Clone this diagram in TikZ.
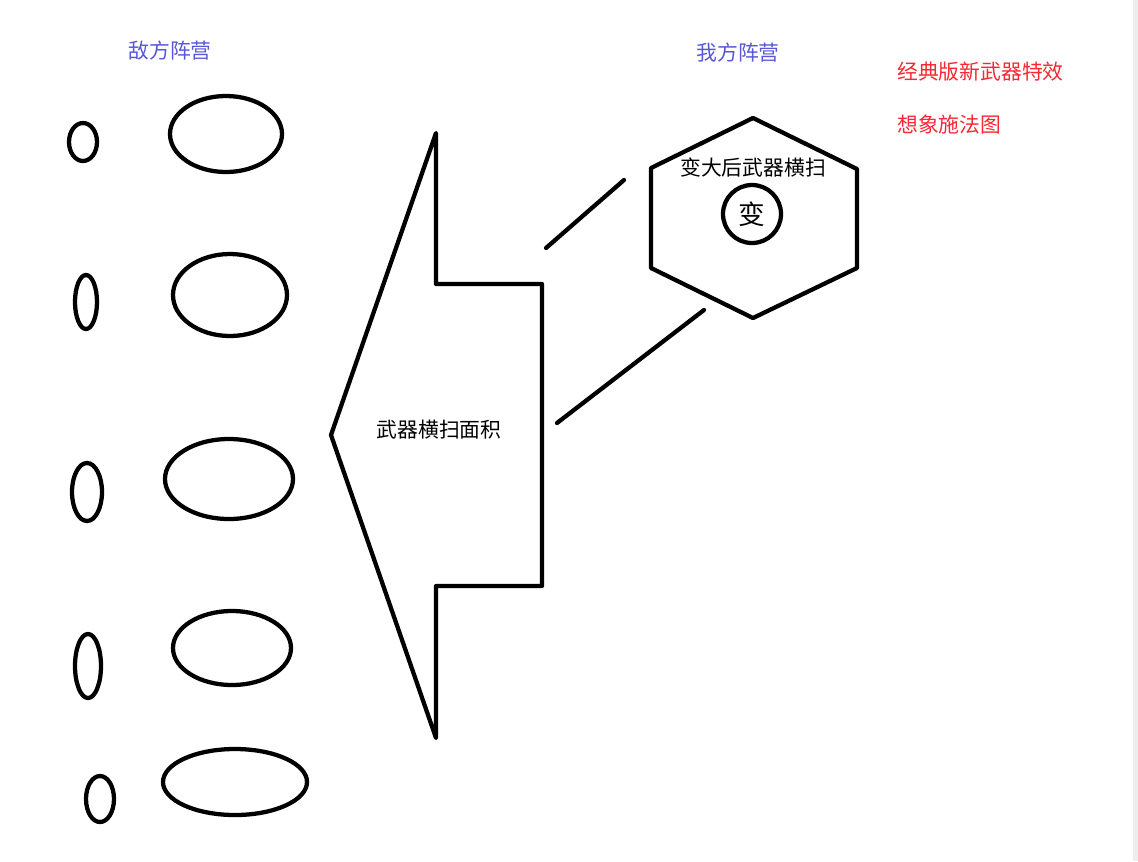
\documentclass[tikz,border=0pt]{standalone}
\usepackage{fontspec}
\newfontfamily\cjk{Noto Sans CJK SC}
\newcommand\pxu{0.75pt}
\definecolor{campblue}{RGB}{88,88,214}
\definecolor{notered}{RGB}{250,40,50}
\begin{document}
\begin{tikzpicture}[x=0.75pt,y=-0.75pt,
  outl/.style={draw=black,line width=3.2pt,line join=round,line cap=round},
  lbl/.style={font=\cjk\fontsize{15.6pt}{18pt}\selectfont,inner sep=0pt},
  bluelbl/.style={lbl,text=campblue},
  redlbl/.style={lbl,text=notered,anchor=west}]
\useasboundingbox (0,0) rectangle (1138,861);
\fill[white] (0,0) rectangle (1138,861);
\fill[black!7] (1133,0) rectangle (1138,861);
% titles
\node[bluelbl] (enemy) at (170,51) {敌方阵营};
\node[bluelbl] (ours) at (738,53) {我方阵营};
\node[redlbl] (note1) at (897,72) {经典版新武器特效};
\node[redlbl] (note2) at (897,125) {想象施法图};
% enemy small ellipses
\draw[outl] (83,142) ellipse [x radius=14*\pxu, y radius=19*\pxu];
\draw[outl] (86,302) ellipse [x radius=11*\pxu, y radius=27*\pxu];
\draw[outl] (87,492) ellipse [x radius=15*\pxu, y radius=29*\pxu];
\draw[outl] (88,666) ellipse [x radius=13*\pxu, y radius=32*\pxu];
\draw[outl] (100,799) ellipse [x radius=14*\pxu, y radius=23*\pxu];
% enemy large ellipses
\draw[outl] (226,134) ellipse [x radius=56*\pxu, y radius=38*\pxu];
\draw[outl] (230,295) ellipse [x radius=57*\pxu, y radius=41*\pxu];
\draw[outl] (229,479) ellipse [x radius=64*\pxu, y radius=40*\pxu];
\draw[outl] (232,648) ellipse [x radius=59*\pxu, y radius=37*\pxu];
\draw[outl] (235,782) ellipse [x radius=72*\pxu, y radius=33*\pxu];
% sweep arrow
\draw[outl] (436,133) -- (436,284) -- (542,284) -- (542,586) -- (436,586) -- (436,738) -- (331,435) -- cycle;
\node[lbl] (sweep) at (439,430) {武器横扫面积};
% hexagon
\draw[outl] (753,118) -- (857,169) -- (857,268) -- (753,318) -- (651,268) -- (651,168) -- cycle;
\node[lbl] (big) at (753,168) {变大后武器横扫};
\node[outl,circle,minimum size=58*\pxu,inner sep=0pt,font=\cjk\fontsize{20pt}{22pt}\selectfont] (bian) at (752,214) {变};
% connecting strokes
\coordinate (a1) at (546,248);
\coordinate (a2) at (624,180);
\coordinate (b1) at (557,423);
\coordinate (b2) at (704,310);
\draw[outl] (a1) -- (a2);
\draw[outl] (b1) -- (b2);
\end{tikzpicture}
\end{document}
